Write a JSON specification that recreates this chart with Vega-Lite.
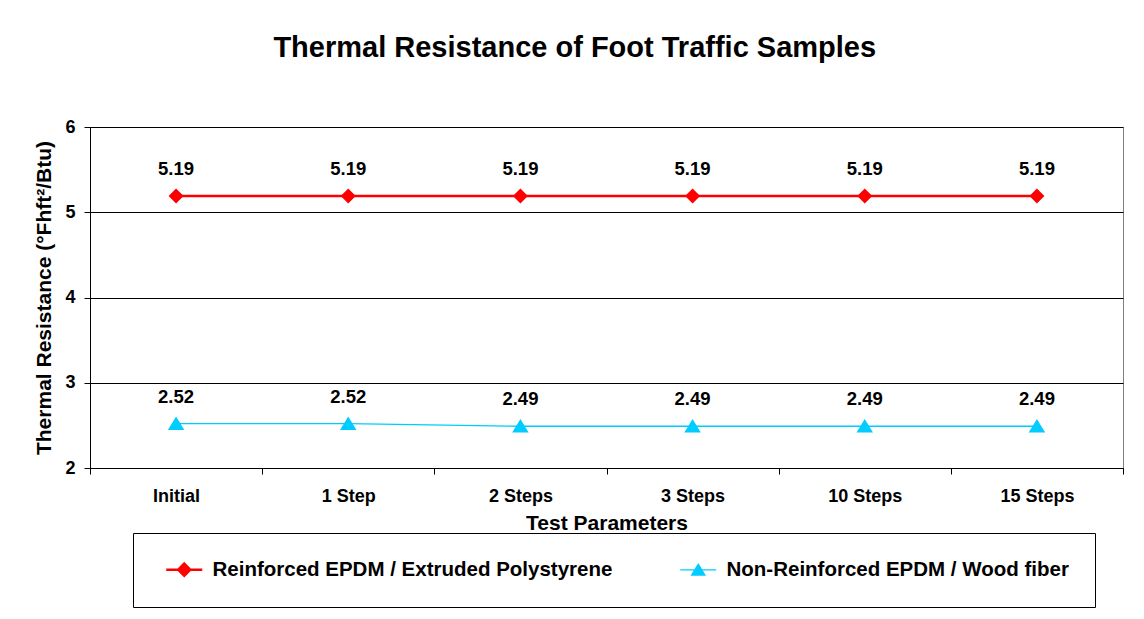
{
  "$schema": "https://vega.github.io/schema/vega-lite/v6.json",
  "width": 1033,
  "height": 341,
  "autosize": {"type": "none"},
  "padding": {"left": 90, "top": 127, "right": 21, "bottom": 151},
  "background": "white",
  "title": {
    "text": "Thermal Resistance of Foot Traffic Samples",
    "font": "Liberation Sans",
    "fontSize": 29,
    "fontWeight": "bold",
    "color": "black",
    "anchor": "middle",
    "frame": "bounds",
    "offset": 55,
    "dx": -4
  },
  "config": {
    "view": {"stroke": "#808080", "strokeWidth": 1},
    "font": "Liberation Sans",
    "axis": {
      "labelFont": "Liberation Sans",
      "labelFontWeight": "bold",
      "labelFontSize": 18,
      "labelColor": "black",
      "titleFont": "Liberation Sans",
      "titleFontWeight": "bold",
      "titleFontSize": 21,
      "titleColor": "black",
      "domainColor": "black",
      "tickColor": "black",
      "tickSize": 6
    },
    "legend": {
      "labelFont": "Liberation Sans",
      "labelFontWeight": "bold",
      "labelFontSize": 20.5,
      "labelColor": "black",
      "labelLimit": 0
    }
  },
  "data": {
    "values": [
      {"param": "Initial", "series": "Reinforced EPDM / Extruded Polystyrene", "value": 5.19},
      {"param": "1 Step", "series": "Reinforced EPDM / Extruded Polystyrene", "value": 5.19},
      {"param": "2 Steps", "series": "Reinforced EPDM / Extruded Polystyrene", "value": 5.19},
      {"param": "3 Steps", "series": "Reinforced EPDM / Extruded Polystyrene", "value": 5.19},
      {"param": "10 Steps", "series": "Reinforced EPDM / Extruded Polystyrene", "value": 5.19},
      {"param": "15 Steps", "series": "Reinforced EPDM / Extruded Polystyrene", "value": 5.19},
      {"param": "Initial", "series": "Non-Reinforced EPDM / Wood fiber", "value": 2.52},
      {"param": "1 Step", "series": "Non-Reinforced EPDM / Wood fiber", "value": 2.52},
      {"param": "2 Steps", "series": "Non-Reinforced EPDM / Wood fiber", "value": 2.49},
      {"param": "3 Steps", "series": "Non-Reinforced EPDM / Wood fiber", "value": 2.49},
      {"param": "10 Steps", "series": "Non-Reinforced EPDM / Wood fiber", "value": 2.49},
      {"param": "15 Steps", "series": "Non-Reinforced EPDM / Wood fiber", "value": 2.49}
    ]
  },
  "encoding": {
    "x": {
      "field": "param",
      "type": "nominal",
      "sort": ["Initial", "1 Step", "2 Steps", "3 Steps", "10 Steps", "15 Steps"],
      "scale": {"type": "band", "paddingInner": 0, "paddingOuter": 0},
      "axis": {
        "title": "Test Parameters",
        "labelAngle": 0,
        "tickBand": "extent",
        "labelPadding": 13,
        "titlePadding": 7,
        "domainColor": "black"
      }
    },
    "y": {
      "field": "value",
      "type": "quantitative",
      "scale": {"domain": [2, 6], "nice": false, "zero": false},
      "axis": {
        "title": "Thermal Resistance (°Fhft²/Btu)",
        "values": [2, 3, 4, 5, 6],
        "format": "d",
        "grid": true,
        "gridColor": "black",
        "gridOpacity": 1,
        "labelPadding": 9,
        "titlePadding": 10
      }
    }
  },
  "layer": [
    {
      "mark": {"type": "line"},
      "encoding": {
        "color": {
          "field": "series",
          "type": "nominal",
          "scale": {
            "domain": ["Reinforced EPDM / Extruded Polystyrene", "Non-Reinforced EPDM / Wood fiber"],
            "range": ["#ff0000", "#00ccff"]
          },
          "legend": {
            "title": " ",
            "titleOrient": "left",
            "titlePadding": 15,
            "titleFontSize": 8,
            "orient": "none",
            "legendX": 43,
            "legendY": 406,
            "direction": "horizontal",
            "columns": 2,
            "columnPadding": 64,
            "symbolSize": 144,
            "symbolStrokeWidth": 2.5,
            "labelOffset": 18,
            "strokeColor": "black",
            "fillColor": "white",
            "padding": 26,
            "encode": {
              "symbols": {"update": {"stroke": {"scale": "color", "field": "value"}, "fill": {"scale": "color", "field": "value"}}}
            }
          }
        },
        "strokeWidth": {
          "field": "series",
          "type": "nominal",
          "scale": {
            "domain": ["Reinforced EPDM / Extruded Polystyrene", "Non-Reinforced EPDM / Wood fiber"],
            "range": [2.5, 1.3]
          },
          "legend": null
        }
      }
    },
    {
      "mark": {"type": "point", "filled": true, "opacity": 1, "size": 225},
      "encoding": {
        "color": {"field": "series", "type": "nominal"},
        "shape": {
          "field": "series",
          "type": "nominal",
          "scale": {
            "domain": ["Reinforced EPDM / Extruded Polystyrene", "Non-Reinforced EPDM / Wood fiber"],
            "range": ["M-3,0H3M0,-1L1,0L0,1L-1,0Z", "M-3,0H3M0,-0.95L1.1,0.85L-1.1,0.85Z"]
          }
        }
      }
    },
    {
      "mark": {"type": "text", "dy": -27, "font": "Liberation Sans", "fontWeight": "bold", "fontSize": 18.5, "color": "black"},
      "encoding": {
        "text": {"field": "value", "type": "quantitative", "format": ".2f"}
      }
    }
  ]
}
